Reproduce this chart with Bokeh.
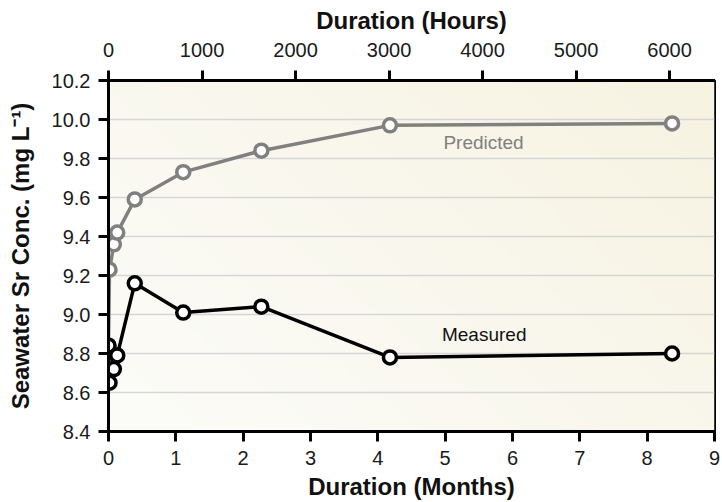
import numpy as np
from bokeh.plotting import figure
from bokeh.models import Range1d, LinearAxis, FixedTicker, NumeralTickFormatter, ColumnDataSource
from bokeh.core.properties import value
from bokeh.embed import file_html
from bokeh.resources import INLINE

# Sampling times (months) and seawater Sr concentrations (mg/L)
months = [0.0, 0.015, 0.08, 0.13, 0.39, 1.11, 2.27, 4.18, 8.37]
predicted = [8.84, 9.23, 9.36, 9.42, 9.59, 9.73, 9.84, 9.97, 9.98]
measured = [8.84, 8.65, 8.72, 8.79, 9.16, 9.01, 9.04, 8.78, 8.80]

month_ticks = [0, 1, 2, 3, 4, 5, 6, 7, 8, 9]
hour_ticks = [0, 1000, 2000, 3000, 4000, 5000, 6000]
conc_ticks = [8.4, 8.6, 8.8, 9.0, 9.2, 9.4, 9.6, 9.8, 10.0, 10.2]
HOURS_PER_MONTH = 720

FONT = "Liberation Sans"
GREY = "#808080"

x_lo, x_hi = 0, 9
y_lo, y_hi = 8.4, 10.2

p = figure(width=722, height=502, output_backend="svg", toolbar_location=None,
           x_range=Range1d(x_lo, x_hi), y_range=Range1d(y_lo, y_hi),
           min_border_left=108, min_border_right=8, min_border_top=80, min_border_bottom=70,
           background_fill_color="#fbfaf6", border_fill_color="white")
p.extra_x_ranges = {"hours": Range1d(x_lo * HOURS_PER_MONTH, x_hi * HOURS_PER_MONTH)}

bottom_axis = p.below[0]
left_axis = p.left[0]

# soft cream gradient behind the data
ny, nx = 80, 160
gx, gy = np.meshgrid(np.linspace(0, 1, nx), np.linspace(0, 1, ny))
t = np.clip((0.65 * gx + 0.45 * gy) / 1.1, 0, 1)
c0 = np.array([252, 252, 249])
c1 = np.array([247, 243, 226])
img = np.empty((ny, nx), dtype=np.uint32)
view = img.view(dtype=np.uint8).reshape((ny, nx, 4))
for k in range(3):
    view[:, :, k] = (c0[k] + (c1[k] - c0[k]) * t).astype(np.uint8)
view[:, :, 3] = 255
p.image_rgba(image=[img], x=x_lo, y=y_lo, dw=x_hi - x_lo, dh=y_hi - y_lo, level="image")

p.outline_line_color = "black"
p.outline_line_width = 3

p.xgrid.grid_line_color = None
p.ygrid.ticker = FixedTicker(ticks=conc_ticks)
p.ygrid.grid_line_color = "#d6d6d6"
p.ygrid.grid_line_width = 1.5

top_axis = LinearAxis(x_range_name="hours", ticker=FixedTicker(ticks=hour_ticks),
                      axis_label="Duration (Hours)")
p.add_layout(top_axis, "above")

bottom_axis.ticker = FixedTicker(ticks=month_ticks)
bottom_axis.axis_label = "Duration (Months)"
left_axis.ticker = FixedTicker(ticks=conc_ticks)
left_axis.formatter = NumeralTickFormatter(format="0.0")
left_axis.axis_label = "Seawater Sr Conc. (mg L\u207b\u00b9)"

for ax in [bottom_axis, top_axis, left_axis]:
    ax.axis_line_width = 3
    ax.axis_line_color = "black"
    ax.major_tick_line_width = 3
    ax.major_tick_line_color = "black"
    ax.major_tick_out = 10
    ax.major_tick_in = 0
    ax.minor_tick_line_color = None
    ax.major_label_text_font = FONT
    ax.major_label_text_font_size = "20px"
    ax.major_label_text_color = "#1a1a1a"
    ax.axis_label_text_font = FONT
    ax.axis_label_text_font_size = "24px"
    ax.axis_label_text_font_style = "bold"
    ax.axis_label_text_color = "#111111"

top_axis.major_label_standoff = 14
top_axis.axis_label_standoff = 6
bottom_axis.major_label_standoff = 9
bottom_axis.axis_label_standoff = 5
left_axis.major_label_standoff = 8
left_axis.axis_label_standoff = 15

src = ColumnDataSource(dict(months=months, predicted=predicted, measured=measured))

p.line("months", "predicted", source=src, line_color=GREY, line_width=3.5)
p.scatter("months", "predicted", source=src, size=13, fill_color="white",
          line_color=GREY, line_width=3.5)
p.line("months", "measured", source=src, line_color="black", line_width=3.5)
p.scatter("months", "measured", source=src, size=13, fill_color="white",
          line_color="black", line_width=3.5)

p.text(x=[5.57], y=[9.88], text=["Predicted"], text_font=value(FONT), text_font_size="19px",
       text_color=GREY, text_align="center", text_baseline="middle")
p.text(x=[5.58], y=[8.90], text=["Measured"], text_font=value(FONT), text_font_size="19px",
       text_color="#111111", text_align="center", text_baseline="middle")

open("out.html", "w").write(file_html(p, INLINE))
